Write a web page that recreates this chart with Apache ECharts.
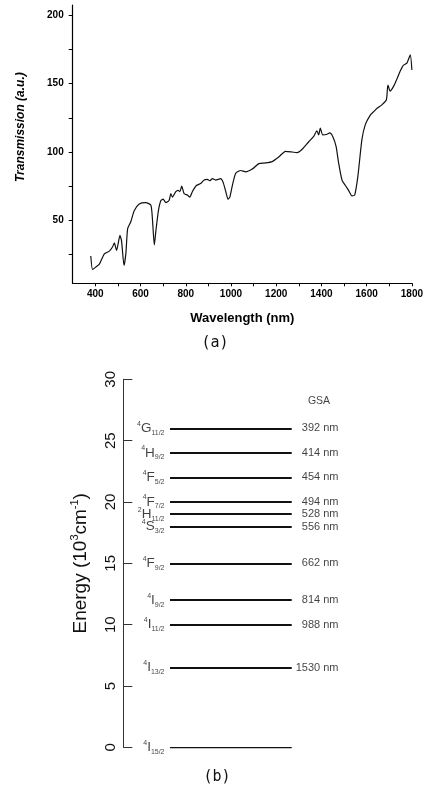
<!DOCTYPE html>
<html>
<head>
<meta charset="utf-8">
<script src="https://cdn.jsdelivr.net/npm/echarts@6/dist/echarts.min.js"></script>
<style>
html,body{margin:0;padding:0;background:#fff;}
#chart{width:426px;height:789px;}
</style>
</head>
<body>
<div id="chart"></div>
<script>
// (a) 투과 스펙트럼
var wavelength = [380,388,403,418,440,462,476,484,494,509,516,527,535,543,557,572,594,624,646,653,
	661,668,679,690,700,712,726,734,741,756,766,774,782,793,807,818,829,847,866,881,
	895,906,918,932,954,965,977,987,995,1006,1021,1043,1065,1094,1123,1153,1182,1212,1241,1270,
	1292,1315,1344,1366,1380,1388,1395,1406,1425,1437,1451,1465,1476,1491,1506,1520,1535,1547,1561,1579,
	1594,1616,1631,1646,1667,1687,1694,1704,1719,1733,1748,1763,1778,1793,1800];
var transmission = [24,14,16,18,25.5,27.5,30.5,33.5,28,39,35,17,25.5,44,49,57,62,63,61,50,
	32,42.5,57,64.5,65.5,63,64.5,69.5,67,71,72,71,75,69.5,68.5,67,71,75.5,77,79.5,
	80,79,80.5,79.5,80.5,78,71,65.5,67,75.5,84.5,86.5,85.5,87.5,91.5,92,93,96.5,100.5,100,
	99.5,102,107.5,111.5,115.5,112.5,117.5,112.5,113,114,111,104,92,79.5,75.5,72,68,68.5,82,109,
	120,127,129.5,132,134.5,138,149,144.5,148,153,159,163.5,165,171,160];
var xTickLabels = [400,600,800,1000,1200,1400,1600,1800];
var xTicks = [400,500,600,700,800,900,1000,1100,1200,1300,1400,1500,1600,1700,1800];
var yTickLabels = [50,100,150,200];
var yTicks = [25,50,75,100,125,150,175,200];

// (b) 에너지 준위
var levelSup = ['4','4','4','4','2','4','4','4','4','4','4'];
var levelLetter = ['G','H','F','F','H','S','F','I','I','I','I'];
var levelSub = ['11/2','9/2','5/2','7/2','11/2','3/2','9/2','9/2','11/2','13/2','15/2'];
var levelEnergy = [26,24,22,20,19,18,15,12,10,6.5,0];
var gsaText = ['392 nm','414 nm','454 nm','494 nm','528 nm','556 nm','662 nm','814 nm','988 nm','1530 nm',''];

var myChart = echarts.init(document.getElementById('chart'));

var specData = [];
for (var i in wavelength) {
	specData.push([wavelength[i], transmission[i]]);
}
var lineData = [];
var termData = [];
var gsaData = [];
for (var j in levelEnergy) {
	lineData.push({coords: [[46.7, levelEnergy[j]], [168.4, levelEnergy[j]]]});
	termData.push([46.7, levelEnergy[j]]);
	gsaData.push([215.7, levelEnergy[j]]);
}

var font = 'Liberation Sans';

var option = {
	animation: false,
	grid: [
		{left: 72.7, top: 5, width: 340.6, height: 278.3},
		{left: 123.3, top: 379.3, width: 240, height: 368}
	],
	xAxis: [{
		gridIndex: 0,
		type: 'value',
		min: 300,
		max: 1800,
		axisLine: {lineStyle: {color: '#000', width: 1.2}},
		axisTick: {customValues: xTicks, length: 3, lineStyle: {color: '#000'}},
		axisLabel: {
			customValues: xTickLabels,
			formatter: function(v) { return String(v); },
			color: '#000', fontSize: 10, fontWeight: 'bold', fontFamily: font, margin: 6
		},
		splitLine: {show: false},
		name: 'Wavelength (nm)',
		nameLocation: 'middle',
		nameGap: 29,
		nameTextStyle: {color: '#000', fontSize: 13, fontWeight: 'bold', fontFamily: font}
	}, {
		gridIndex: 1,
		type: 'value',
		min: 0,
		max: 240,
		show: false
	}],
	yAxis: [{
		gridIndex: 0,
		type: 'value',
		min: 4,
		max: 207.5,
		axisLine: {show: true, lineStyle: {color: '#000', width: 1.2}},
		axisTick: {show: true, customValues: yTicks, length: 4, lineStyle: {color: '#000'}},
		axisLabel: {customValues: yTickLabels, color: '#000', fontSize: 10, fontWeight: 'bold', fontFamily: font, margin: 9},
		splitLine: {show: false},
		name: 'Transmission (a.u.)',
		nameLocation: 'middle',
		nameRotate: 90,
		nameGap: 46,
		nameTextStyle: {color: '#000', fontSize: 12, fontWeight: 'bold', fontStyle: 'italic', fontFamily: font, padding: [0, 0, 0, 34]}
	}, {
		gridIndex: 1,
		type: 'value',
		min: 0,
		max: 30,
		interval: 5,
		axisLine: {show: true, lineStyle: {color: '#333', width: 1}},
		axisTick: {show: true, inside: true, length: 9, lineStyle: {color: '#333'}},
		axisLabel: {rotate: 90, color: '#111', fontSize: 15, fontFamily: font, margin: 5},
		splitLine: {show: false},
		name: '{n|Energy (10}{s|3}{n|cm}{s|-1}{n|)}',
		nameLocation: 'middle',
		nameRotate: 90,
		nameGap: 32,
		nameTextStyle: {
			rich: {
				n: {fontSize: 19, fontFamily: font, color: '#111', lineHeight: 22},
				s: {fontSize: 11, fontFamily: font, color: '#111', lineHeight: 12, verticalAlign: 'top'}
			}
		}
	}],
	series: [{
		type: 'line',
		xAxisIndex: 0,
		yAxisIndex: 0,
		data: specData,
		symbol: 'none',
		smooth: 0.2,
		lineStyle: {color: '#111', width: 1.2}
	}, {
		type: 'lines',
		coordinateSystem: 'cartesian2d',
		xAxisIndex: 1,
		yAxisIndex: 1,
		data: lineData,
		silent: true,
		lineStyle: {color: '#111', width: 2, opacity: 1}
	}, {
		// 준위 이름
		type: 'scatter',
		xAxisIndex: 1,
		yAxisIndex: 1,
		data: termData,
		symbolSize: 1,
		itemStyle: {color: 'rgba(0,0,0,0)'},
		silent: true,
		label: {
			show: true,
			position: 'left',
			distance: 5,
			formatter: function(params) {
				var k = params.dataIndex;
				return '{sup|' + levelSup[k] + '}{main|' + levelLetter[k] + '}{sub|' + levelSub[k] + '}';
			},
			rich: {
				sup: {fontSize: 7, fontFamily: font, color: '#111', lineHeight: 8, verticalAlign: 'top'},
				main: {fontSize: 13.5, fontFamily: font, color: '#111', lineHeight: 16},
				sub: {fontSize: 7, fontFamily: font, color: '#111', lineHeight: 6, verticalAlign: 'bottom'}
			}
		}
	}, {
		// GSA 파장
		type: 'scatter',
		xAxisIndex: 1,
		yAxisIndex: 1,
		data: gsaData,
		symbolSize: 1,
		itemStyle: {color: 'rgba(0,0,0,0)'},
		silent: true,
		label: {
			show: true,
			position: 'left',
			distance: 0,
			color: '#111',
			fontSize: 11,
			fontFamily: font,
			formatter: function(params) {
				return gsaText[params.dataIndex];
			}
		}
	}, {
		type: 'scatter',
		xAxisIndex: 1,
		yAxisIndex: 1,
		data: [[195.7, 28.2]],
		symbolSize: 1,
		itemStyle: {color: 'rgba(0,0,0,0)'},
		silent: true,
		label: {show: true, position: 'inside', formatter: 'GSA', color: '#111', fontSize: 10.5, fontFamily: font}
	}],
	graphic: [
		{type: 'text', x: 215, y: 343, style: {text: '(a)', fontSize: 15, fontFamily: 'DejaVu Sans Mono', fill: '#111', align: 'center', verticalAlign: 'middle'}},
		{type: 'text', x: 217, y: 777, style: {text: '(b)', fontSize: 15, fontFamily: 'DejaVu Sans Mono', fill: '#111', align: 'center', verticalAlign: 'middle'}}
	]
};
myChart.setOption(option);
</script>
</body>
</html>
